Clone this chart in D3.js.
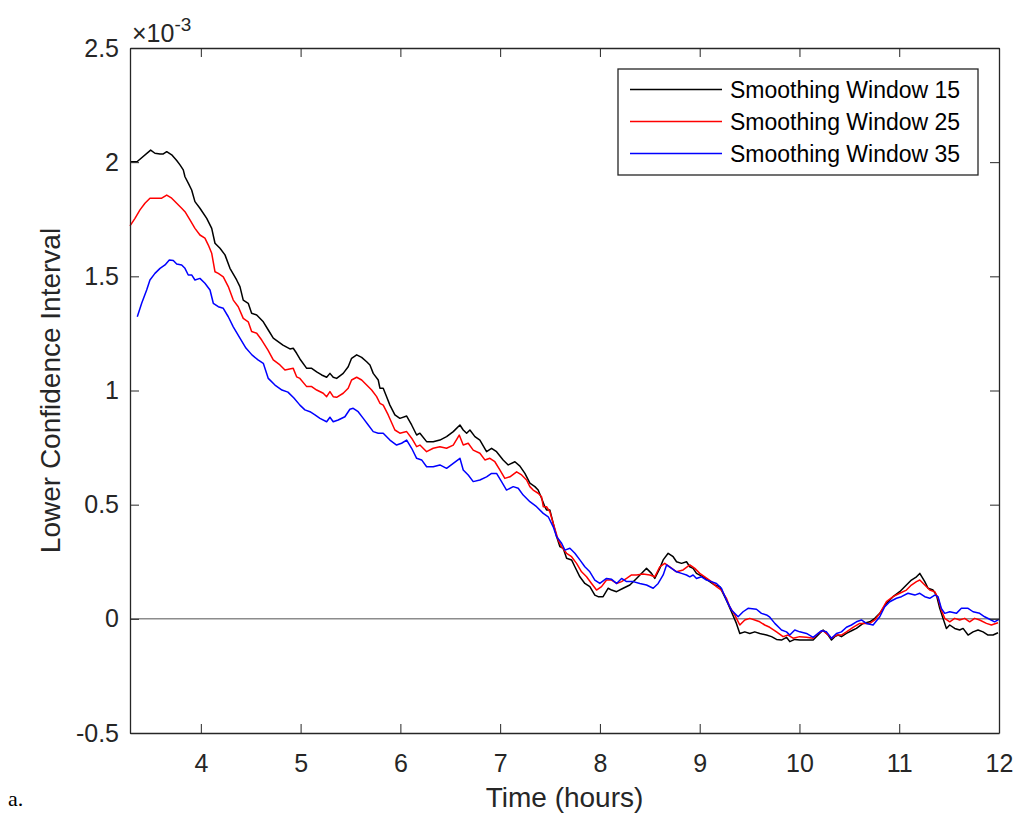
<!DOCTYPE html>
<html>
<head>
<meta charset="utf-8">
<script src="https://cdn.jsdelivr.net/npm/d3@7"></script>
<style>
    body { margin: 0; background: #fff; }
    text { font-family: Arial, "Liberation Sans", sans-serif; fill: #262626; }
</style>
</head>
<body>
<div id="graph"></div>
<script>
/*************************************** DATA *********************************************/

// [time in hours, lower confidence interval in units of 1e-3]
var window15 = [
    [3.290, 2.002], [3.360, 2.002], [3.497, 2.053], [3.540, 2.039], [3.591, 2.036], [3.624, 2.036], [3.658, 2.046],
    [3.708, 2.032], [3.758, 2.007], [3.791, 1.988], [3.824, 1.966], [3.841, 1.936], [3.874, 1.908], [3.908, 1.878],
    [3.941, 1.827], [3.991, 1.798], [4.059, 1.754], [4.109, 1.710], [4.142, 1.645], [4.192, 1.623], [4.242, 1.594],
    [4.292, 1.535], [4.359, 1.484], [4.392, 1.455], [4.425, 1.396], [4.475, 1.382], [4.509, 1.338], [4.560, 1.331],
    [4.626, 1.301], [4.676, 1.265], [4.726, 1.229], [4.823, 1.199], [4.893, 1.182], [4.926, 1.185], [4.960, 1.163],
    [4.993, 1.138], [5.061, 1.097], [5.111, 1.097], [5.161, 1.082], [5.211, 1.068], [5.261, 1.058], [5.294, 1.075],
    [5.327, 1.058], [5.361, 1.053], [5.427, 1.075], [5.477, 1.104], [5.511, 1.141], [5.562, 1.156], [5.612, 1.145],
    [5.662, 1.126], [5.695, 1.112], [5.728, 1.075], [5.778, 1.046], [5.795, 1.010], [5.828, 1.010], [5.862, 0.973],
    [5.895, 0.936], [5.945, 0.893], [5.995, 0.878], [6.063, 0.888], [6.113, 0.849], [6.163, 0.805], [6.196, 0.813],
    [6.263, 0.776], [6.329, 0.776], [6.396, 0.783], [6.463, 0.798], [6.530, 0.820], [6.597, 0.849], [6.630, 0.827],
    [6.664, 0.813], [6.697, 0.827], [6.747, 0.798], [6.797, 0.783], [6.864, 0.732], [6.914, 0.747], [6.964, 0.732],
    [7.030, 0.696], [7.081, 0.674], [7.148, 0.688], [7.198, 0.669], [7.248, 0.637], [7.298, 0.594], [7.348, 0.579],
    [7.381, 0.564], [7.415, 0.528], [7.448, 0.491], [7.465, 0.477], [7.498, 0.477], [7.532, 0.418], [7.566, 0.360],
    [7.599, 0.316], [7.632, 0.309], [7.666, 0.265], [7.716, 0.258], [7.749, 0.228], [7.799, 0.184], [7.849, 0.155],
    [7.899, 0.141], [7.949, 0.104], [7.982, 0.097], [8.032, 0.097], [8.083, 0.134], [8.117, 0.126], [8.167, 0.119],
    [8.233, 0.134], [8.300, 0.148], [8.367, 0.177], [8.433, 0.206], [8.467, 0.221], [8.517, 0.199], [8.550, 0.177],
    [8.600, 0.221], [8.634, 0.258], [8.684, 0.287], [8.734, 0.272], [8.768, 0.250], [8.818, 0.243], [8.868, 0.250],
    [8.901, 0.228], [8.934, 0.221], [8.968, 0.199], [9.034, 0.184], [9.101, 0.163], [9.151, 0.148], [9.201, 0.141],
    [9.268, 0.082], [9.318, 0.031], [9.368, -0.020], [9.402, -0.064], [9.452, -0.057], [9.502, -0.064], [9.552, -0.057],
    [9.602, -0.064], [9.670, -0.071], [9.720, -0.078], [9.770, -0.090], [9.820, -0.093], [9.870, -0.081], [9.903, -0.100],
    [9.953, -0.090], [10.003, -0.093], [10.071, -0.093], [10.137, -0.093], [10.187, -0.071], [10.237, -0.049],
    [10.287, -0.071], [10.321, -0.093], [10.354, -0.078], [10.387, -0.071], [10.421, -0.078], [10.471, -0.064],
    [10.537, -0.049], [10.571, -0.042], [10.638, -0.020], [10.705, -0.013], [10.755, 0.002], [10.805, 0.024],
    [10.872, 0.068], [10.938, 0.097], [11.005, 0.119], [11.072, 0.148], [11.122, 0.170], [11.173, 0.184],
    [11.206, 0.199], [11.256, 0.163], [11.289, 0.134], [11.339, 0.126], [11.373, 0.104], [11.406, 0.046],
    [11.439, 0.002], [11.473, -0.042], [11.506, -0.027], [11.556, -0.042], [11.606, -0.049], [11.640, -0.042],
    [11.690, -0.071], [11.740, -0.057], [11.790, -0.049], [11.840, -0.057], [11.890, -0.071], [11.940, -0.071],
    [11.990, -0.061]
];

var window25 = [
    [3.290, 1.721], [3.340, 1.754], [3.390, 1.791], [3.440, 1.820], [3.490, 1.842], [3.540, 1.842], [3.608, 1.842],
    [3.658, 1.856], [3.708, 1.842], [3.758, 1.820], [3.808, 1.798], [3.841, 1.783], [3.891, 1.747], [3.941, 1.710],
    [3.991, 1.681], [4.041, 1.667], [4.075, 1.637], [4.109, 1.601], [4.142, 1.520], [4.175, 1.513], [4.225, 1.498],
    [4.275, 1.455], [4.325, 1.396], [4.375, 1.367], [4.425, 1.316], [4.475, 1.301], [4.509, 1.258], [4.560, 1.251],
    [4.610, 1.221], [4.673, 1.177], [4.726, 1.134], [4.793, 1.112], [4.843, 1.090], [4.926, 1.097], [4.960, 1.060],
    [4.993, 1.053], [5.061, 1.017], [5.111, 1.017], [5.161, 1.002], [5.227, 0.988], [5.261, 0.973], [5.294, 0.995],
    [5.327, 0.973], [5.361, 0.970], [5.427, 0.988], [5.477, 1.010], [5.511, 1.046], [5.562, 1.058], [5.612, 1.046],
    [5.662, 1.024], [5.712, 1.002], [5.762, 0.973], [5.795, 0.944], [5.828, 0.936], [5.878, 0.893], [5.945, 0.827],
    [5.995, 0.813], [6.063, 0.820], [6.113, 0.791], [6.163, 0.754], [6.196, 0.761], [6.263, 0.732], [6.329, 0.747],
    [6.396, 0.754], [6.463, 0.747], [6.530, 0.761], [6.590, 0.805], [6.630, 0.761], [6.680, 0.769], [6.730, 0.739],
    [6.797, 0.725], [6.847, 0.696], [6.897, 0.703], [6.947, 0.688], [6.997, 0.652], [7.047, 0.615], [7.098, 0.622],
    [7.165, 0.644], [7.215, 0.630], [7.265, 0.608], [7.298, 0.579], [7.331, 0.564], [7.381, 0.550], [7.415, 0.535],
    [7.432, 0.491], [7.465, 0.491], [7.498, 0.469], [7.532, 0.418], [7.582, 0.345], [7.616, 0.316], [7.666, 0.287],
    [7.716, 0.272], [7.766, 0.243], [7.816, 0.206], [7.866, 0.184], [7.916, 0.155], [7.966, 0.126], [8.016, 0.141],
    [8.066, 0.170], [8.117, 0.170], [8.167, 0.155], [8.217, 0.163], [8.267, 0.177], [8.317, 0.192], [8.367, 0.192],
    [8.433, 0.196], [8.500, 0.192], [8.550, 0.184], [8.600, 0.228], [8.650, 0.243], [8.700, 0.228], [8.768, 0.206],
    [8.834, 0.214], [8.901, 0.236], [8.951, 0.221], [9.001, 0.199], [9.051, 0.184], [9.118, 0.163], [9.168, 0.141],
    [9.218, 0.126], [9.268, 0.090], [9.301, 0.053], [9.351, 0.017], [9.402, -0.027], [9.452, -0.005], [9.502, 0.002],
    [9.552, -0.005], [9.602, -0.013], [9.652, -0.027], [9.702, -0.037], [9.770, -0.057], [9.836, -0.078],
    [9.886, -0.071], [9.936, -0.085], [10.003, -0.078], [10.071, -0.081], [10.137, -0.085], [10.187, -0.064],
    [10.237, -0.052], [10.287, -0.071], [10.321, -0.085], [10.371, -0.071], [10.421, -0.071], [10.471, -0.057],
    [10.537, -0.037], [10.604, -0.020], [10.638, -0.020], [10.705, -0.020], [10.755, -0.005], [10.805, 0.024],
    [10.872, 0.075], [10.938, 0.097], [11.005, 0.112], [11.072, 0.126], [11.122, 0.148], [11.173, 0.163],
    [11.206, 0.170], [11.256, 0.148], [11.306, 0.126], [11.356, 0.119], [11.389, 0.090], [11.422, 0.039],
    [11.456, 0.002], [11.506, -0.013], [11.556, 0.002], [11.606, -0.005], [11.656, 0.002], [11.706, -0.013],
    [11.756, 0.002], [11.806, -0.005], [11.874, -0.020], [11.924, -0.027], [11.990, -0.017]
];

var window35 = [
    [3.363, 1.323], [3.407, 1.382], [3.457, 1.440], [3.490, 1.484], [3.540, 1.513], [3.591, 1.535], [3.641, 1.550],
    [3.684, 1.572], [3.724, 1.569], [3.758, 1.554], [3.808, 1.550], [3.841, 1.535], [3.874, 1.506], [3.908, 1.506],
    [3.941, 1.484], [3.991, 1.491], [4.041, 1.470], [4.092, 1.440], [4.125, 1.382], [4.175, 1.367], [4.225, 1.360],
    [4.275, 1.323], [4.325, 1.279], [4.392, 1.229], [4.452, 1.186], [4.512, 1.156], [4.573, 1.134], [4.626, 1.119],
    [4.676, 1.053], [4.743, 1.024], [4.813, 1.002], [4.873, 0.993], [4.933, 0.967], [4.993, 0.936], [5.043, 0.915],
    [5.094, 0.907], [5.144, 0.893], [5.194, 0.878], [5.261, 0.863], [5.294, 0.883], [5.327, 0.863], [5.377, 0.871],
    [5.444, 0.885], [5.494, 0.918], [5.527, 0.922], [5.577, 0.907], [5.628, 0.878], [5.678, 0.849], [5.728, 0.820],
    [5.778, 0.813], [5.828, 0.813], [5.895, 0.783], [5.962, 0.761], [6.012, 0.769], [6.063, 0.783], [6.113, 0.747],
    [6.163, 0.703], [6.213, 0.696], [6.263, 0.666], [6.329, 0.666], [6.396, 0.674], [6.463, 0.659], [6.530, 0.681],
    [6.597, 0.703], [6.630, 0.652], [6.680, 0.630], [6.730, 0.601], [6.797, 0.608], [6.864, 0.622], [6.914, 0.637],
    [6.964, 0.637], [7.014, 0.601], [7.064, 0.564], [7.131, 0.579], [7.181, 0.572], [7.231, 0.542], [7.298, 0.513],
    [7.365, 0.491], [7.432, 0.462], [7.482, 0.447], [7.532, 0.403], [7.566, 0.360], [7.616, 0.331], [7.649, 0.301],
    [7.699, 0.309], [7.749, 0.287], [7.799, 0.258], [7.849, 0.228], [7.899, 0.206], [7.949, 0.170], [7.999, 0.155],
    [8.066, 0.177], [8.117, 0.173], [8.167, 0.155], [8.217, 0.177], [8.267, 0.163], [8.333, 0.163], [8.400, 0.155],
    [8.467, 0.148], [8.534, 0.134], [8.584, 0.155], [8.634, 0.192], [8.668, 0.236], [8.718, 0.221], [8.768, 0.206],
    [8.818, 0.199], [8.868, 0.192], [8.901, 0.184], [8.934, 0.192], [8.968, 0.177], [9.018, 0.184], [9.068, 0.170],
    [9.118, 0.163], [9.168, 0.155], [9.218, 0.134], [9.268, 0.082], [9.318, 0.039], [9.385, 0.009], [9.435, 0.031],
    [9.485, 0.046], [9.569, 0.042], [9.619, 0.024], [9.670, 0.017], [9.703, 0.007], [9.753, -0.020], [9.820, -0.049],
    [9.870, -0.057], [9.903, -0.071], [9.953, -0.049], [10.003, -0.057], [10.071, -0.064], [10.137, -0.081],
    [10.187, -0.064], [10.221, -0.052], [10.271, -0.057], [10.321, -0.085], [10.371, -0.064], [10.421, -0.057],
    [10.471, -0.037], [10.521, -0.027], [10.571, -0.013], [10.621, -0.005], [10.671, -0.020], [10.738, -0.027],
    [10.805, 0.009], [10.855, 0.053], [10.905, 0.075], [10.972, 0.090], [11.022, 0.097], [11.088, 0.112],
    [11.156, 0.104], [11.206, 0.112], [11.256, 0.097], [11.306, 0.090], [11.356, 0.104], [11.389, 0.097],
    [11.422, 0.046], [11.456, 0.024], [11.506, 0.031], [11.573, 0.024], [11.623, 0.046], [11.690, 0.046],
    [11.740, 0.031], [11.806, 0.024], [11.856, 0.009], [11.906, -0.002], [11.956, -0.013], [11.999, -0.002]
];

var seriesNames = ["Smoothing Window 15", "Smoothing Window 25", "Smoothing Window 35"];
var xTicks = [4, 5, 6, 7, 8, 9, 10, 11, 12];
var yTicks = [-0.5, 0, 0.5, 1, 1.5, 2, 2.5];
var xDomain = [3.29, 12];
var yDomain = [-0.5, 2.5];

/*************************************** GRAPH *********************************************/

var colors = ["#000000", "#ff0000", "#0000ff"];
var axisColor = "#262626";

var margin = {
        top: 48,
        right: 18,
        bottom: 85,
        left: 130
    },
    width = 1017 - margin.left - margin.right,
    height = 818 - margin.top - margin.bottom;

var x = d3.scaleLinear().domain(xDomain).range([0, width]);
var y = d3.scaleLinear().domain(yDomain).range([height, 0]);

var root = d3.select("#graph").append("svg")
    .attr("width", width + margin.left + margin.right)
    .attr("height", height + margin.top + margin.bottom);

var svg = root.append("g")
    .attr("transform", "translate(" + margin.left + "," + margin.top + ")");

var line = d3.line()
    .x(function(d) { return x(d[0]); })
    .y(function(d) { return y(d[1]); });

// zero reference line
svg.append("line")
    .attr("x1", x(xDomain[0]))
    .attr("x2", x(xDomain[1]))
    .attr("y1", y(0))
    .attr("y2", y(0))
    .attr("stroke", "#8c8c8c")
    .attr("stroke-width", 1.5);

[window15, window25, window35].forEach(function(series, i) {
    svg.append("path")
        .datum(series)
        .attr("fill", "none")
        .attr("stroke", colors[i])
        .attr("stroke-width", 1.5)
        .attr("stroke-linejoin", "round")
        .attr("d", line);
});

// axes, ticks point inward like matlab
function styleAxis(g, fontSize) {
    g.attr("font-family", null).attr("font-size", fontSize);
    g.select(".domain").attr("stroke", axisColor).attr("stroke-width", 1.3);
    g.selectAll(".tick line").attr("stroke", axisColor).attr("stroke-width", 1);
    g.selectAll(".tick text").attr("fill", axisColor);
}

svg.append("g")
    .attr("class", "x axis")
    .attr("transform", "translate(0," + height + ")")
    .call(d3.axisBottom(x).tickValues(xTicks).tickSizeInner(-9).tickSizeOuter(0).tickPadding(21))
    .call(styleAxis, 25);

svg.append("g")
    .attr("class", "x axis top")
    .call(d3.axisTop(x).tickValues(xTicks).tickSizeInner(-9).tickSizeOuter(0).tickFormat(""))
    .call(styleAxis, 25);

// plain hyphen for negatives, as in the original
svg.append("g")
    .attr("class", "y axis")
    .call(d3.axisLeft(y).tickValues(yTicks).tickSizeInner(-9).tickSizeOuter(0).tickPadding(11)
        .tickFormat(function(d) { return String(d); }))
    .call(styleAxis, 25);

svg.append("g")
    .attr("class", "y axis right")
    .attr("transform", "translate(" + width + ",0)")
    .call(d3.axisRight(y).tickValues(yTicks).tickSizeInner(-9).tickSizeOuter(0).tickFormat(""))
    .call(styleAxis, 25);

// exponent label
var expo = svg.append("text")
    .attr("x", 2)
    .attr("y", -6)
    .attr("font-size", 25);
expo.append("tspan").text("\u00d710");
expo.append("tspan").attr("dy", -11).attr("font-size", 19).text("-3");

// axis labels
svg.append("text")
    .attr("x", width / 2)
    .attr("y", height + 74)
    .attr("text-anchor", "middle")
    .attr("font-size", 28)
    .text("Time (hours)");

svg.append("text")
    .attr("transform", "translate(-70," + (height / 2) + ") rotate(-90)")
    .attr("text-anchor", "middle")
    .attr("font-size", 28)
    .text("Lower Confidence Interval");

root.append("text")
    .attr("x", 8)
    .attr("y", 806)
    .style("font-family", "'Liberation Serif', 'Times New Roman', serif")
    .attr("font-size", 22)
    .style("fill", "#000")
    .text("a.");

/*************************************** LEGEND *********************************************/

var legend = svg.append("g")
    .attr("class", "legend")
    .attr("transform", "translate(" + (width - 381) + ",21)");

legend.append("rect")
    .attr("width", 360)
    .attr("height", 106)
    .attr("fill", "#fff")
    .attr("stroke", axisColor)
    .attr("stroke-width", 1.3);

seriesNames.forEach(function(name, i) {
    var row = legend.append("g").attr("transform", "translate(0," + (20.5 + i * 32) + ")");
    row.append("line")
        .attr("x1", 12)
        .attr("x2", 104)
        .attr("stroke", colors[i])
        .attr("stroke-width", 1.5);
    row.append("text")
        .attr("x", 112)
        .attr("dy", "0.35em")
        .attr("font-size", 23)
        .style("fill", "#000")
        .text(name);
});
</script>
</body>
</html>
